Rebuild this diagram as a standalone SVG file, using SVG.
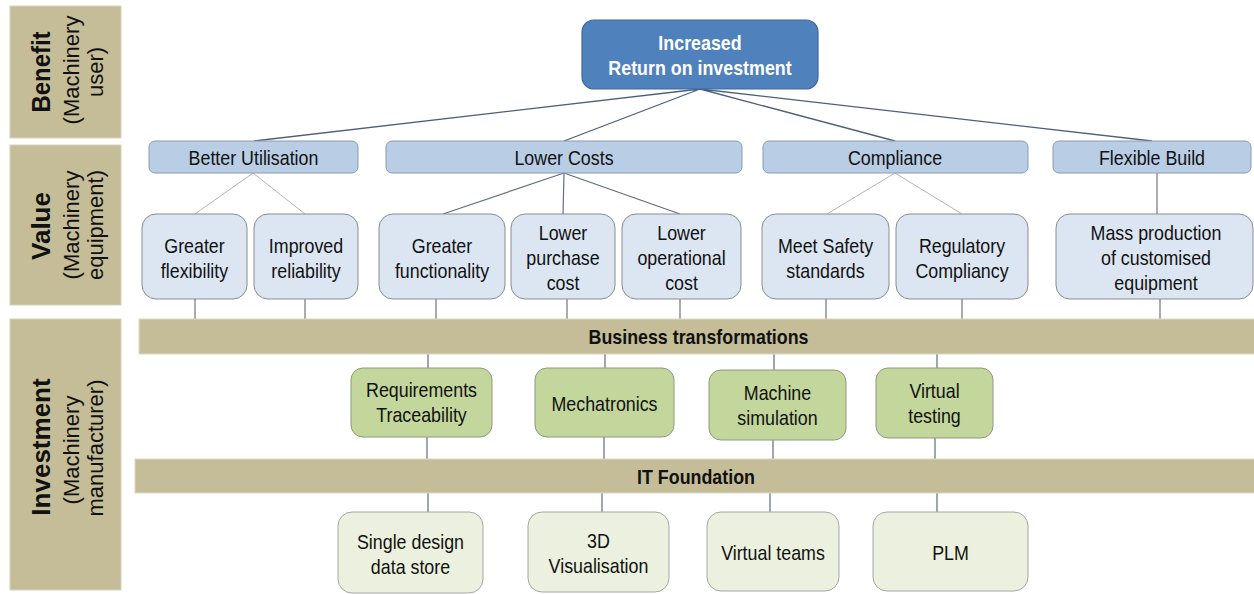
<svg xmlns="http://www.w3.org/2000/svg" width="1254" height="594" viewBox="0 0 1254 594">
  <style>
    text { font-family: "Liberation Sans", Arial, sans-serif; fill: #111; }
    .t { font-size: 21px; text-anchor: middle; }
    .tb { font-size: 21px; font-weight: bold; text-anchor: middle; }
    .top { font-size: 21px; font-weight: bold; text-anchor: middle; fill: #fff; }
    .side { font-size: 26px; font-weight: bold; text-anchor: middle; }
    .sub { font-size: 22px; text-anchor: middle; }
    .panel { fill: #c4bd97; stroke: #d8d3bd; stroke-width: 1; }
    .bar { fill: #c4bd97; stroke: #ddd8c4; stroke-width: 1; }
    .roi { fill: #4f81bd; stroke: #41689a; stroke-width: 1.2; }
    .lvl2 { fill: #b9cde5; stroke: #8a9bb2; stroke-width: 1; }
    .lvl3 { fill: #dce6f2; stroke: #8c8c8c; stroke-width: 1; }
    .bt { fill: #c3d69b; stroke: #8e9a7e; stroke-width: 1; }
    .it { fill: #ebf1de; stroke: #a6a6a6; stroke-width: 1; }
    .c-dark { stroke: #4c5f78; stroke-width: 1.3; fill: none; }
    .c-mid { stroke: #5e6e84; stroke-width: 1.2; fill: none; }
    .c-light { stroke: #b4b4b4; stroke-width: 1; fill: none; }
    .c-gray { stroke: #7a7f88; stroke-width: 1.3; fill: none; }
  </style>

  <!-- side panels -->
  <g id="panel-benefit">
    <rect class="panel" x="10" y="6" width="111" height="132"/>
    <text class="side" transform="translate(50 72) rotate(-90) scale(0.92 1)">Benefit</text>
    <text class="sub" transform="translate(79 70) rotate(-90)">(Machinery</text>
    <text class="sub" transform="translate(103 72) rotate(-90)">user)</text>
  </g>
  <g id="panel-value">
    <rect class="panel" x="10" y="145" width="111" height="160"/>
    <text class="side" transform="translate(50 226) rotate(-90)">Value</text>
    <text class="sub" transform="translate(79 225) rotate(-90)">(Machinery</text>
    <text class="sub" transform="translate(103 225) rotate(-90)">equipment)</text>
  </g>
  <g id="panel-investment">
    <rect class="panel" x="10" y="319" width="111" height="271"/>
    <text class="side" transform="translate(50 447) rotate(-90)">Investment</text>
    <text class="sub" transform="translate(79 450) rotate(-90)">(Machinery</text>
    <text class="sub" transform="translate(103 448) rotate(-90)">manufacturer)</text>
  </g>

  <!-- connectors -->
  <g id="connectors">
    <path class="c-dark" d="M700 89 L254 141 M700 89 L564 141 M700 89 L895 141 M700 89 L1152 141"/>
    <path class="c-light" d="M253 173 L195 214 M253 173 L305 214"/>
    <path class="c-mid" d="M564 173 L443 214 M564 173 L563 214 M564 173 L680 214"/>
    <path class="c-light" d="M895 173 L827 214 M895 173 L962 214"/>
    <path class="c-gray" d="M1157 173 L1157 214"/>
    <path class="c-gray" d="M195 299 V319 M305 299 V319 M436 299 V319 M567 299 V319 M680 299 V319 M826 299 V319 M962 299 V319 M1160 299 V319"/>
    <path class="c-mid" d="M428 354 V368 M605 354 V368 M774 354 V370 M937 354 V368"/>
    <path class="c-mid" d="M427 437 V459 M604 437 V459 M773 440 V459 M935 438 V459"/>
    <path class="c-mid" d="M428 493 V512 M602 493 V512 M770 493 V512 M937 493 V512"/>
  </g>

  <!-- benefit -->
  <g id="node-roi">
    <rect class="roi" x="582" y="20" width="236" height="69" rx="12"/>
    <text class="top" transform="translate(700 0) scale(0.85 1)"><tspan x="0" y="50">Increased</tspan><tspan x="0" y="75">Return on investment</tspan></text>
  </g>

  <!-- value groups -->
  <g id="node-better-utilisation">
    <rect class="lvl2" x="149" y="141" width="209" height="32" rx="6"/>
    <text class="t" transform="translate(253.5 0) scale(0.85 1)" y="165">Better Utilisation</text>
  </g>
  <g id="node-lower-costs">
    <rect class="lvl2" x="386" y="141" width="356" height="32" rx="6"/>
    <text class="t" transform="translate(564 0) scale(0.85 1)" y="165">Lower Costs</text>
  </g>
  <g id="node-compliance">
    <rect class="lvl2" x="763" y="141" width="265" height="32" rx="6"/>
    <text class="t" transform="translate(895 0) scale(0.85 1)" y="165">Compliance</text>
  </g>
  <g id="node-flexible-build">
    <rect class="lvl2" x="1053" y="141" width="198" height="32" rx="6"/>
    <text class="t" transform="translate(1152 0) scale(0.85 1)" y="165">Flexible Build</text>
  </g>

  <!-- value items -->
  <g id="node-greater-flexibility">
    <rect class="lvl3" x="142" y="214" width="105" height="85" rx="14"/>
    <text class="t" transform="translate(194.5 0) scale(0.85 1)"><tspan x="0" y="253">Greater</tspan><tspan x="0" y="278">flexibility</tspan></text>
  </g>
  <g id="node-improved-reliability">
    <rect class="lvl3" x="254" y="214" width="104" height="85" rx="14"/>
    <text class="t" transform="translate(306 0) scale(0.85 1)"><tspan x="0" y="253">Improved</tspan><tspan x="0" y="278">reliability</tspan></text>
  </g>
  <g id="node-greater-functionality">
    <rect class="lvl3" x="379" y="214" width="126" height="85" rx="14"/>
    <text class="t" transform="translate(442 0) scale(0.85 1)"><tspan x="0" y="253">Greater</tspan><tspan x="0" y="278">functionality</tspan></text>
  </g>
  <g id="node-lower-purchase-cost">
    <rect class="lvl3" x="511" y="214" width="104" height="85" rx="14"/>
    <text class="t" transform="translate(563 0) scale(0.85 1)"><tspan x="0" y="240">Lower</tspan><tspan x="0" y="265">purchase</tspan><tspan x="0" y="290">cost</tspan></text>
  </g>
  <g id="node-lower-operational-cost">
    <rect class="lvl3" x="622" y="214" width="119" height="85" rx="14"/>
    <text class="t" transform="translate(681.5 0) scale(0.85 1)"><tspan x="0" y="240">Lower</tspan><tspan x="0" y="265">operational</tspan><tspan x="0" y="290">cost</tspan></text>
  </g>
  <g id="node-meet-safety">
    <rect class="lvl3" x="762" y="214" width="127" height="85" rx="14"/>
    <text class="t" transform="translate(825.5 0) scale(0.85 1)"><tspan x="0" y="253">Meet Safety</tspan><tspan x="0" y="278">standards</tspan></text>
  </g>
  <g id="node-regulatory-compliancy">
    <rect class="lvl3" x="896" y="214" width="132" height="85" rx="14"/>
    <text class="t" transform="translate(962 0) scale(0.85 1)"><tspan x="0" y="253">Regulatory</tspan><tspan x="0" y="278">Compliancy</tspan></text>
  </g>
  <g id="node-mass-production">
    <rect class="lvl3" x="1056" y="214" width="197" height="85" rx="14"/>
    <text class="t" transform="translate(1156 0) scale(0.85 1)"><tspan x="0" y="240">Mass production</tspan><tspan x="0" y="265">of customised</tspan><tspan x="0" y="290">equipment</tspan></text>
  </g>

  <!-- business transformations -->
  <g id="bar-business-transformations">
    <rect class="bar" x="139" y="319" width="1116" height="35"/>
    <text class="tb" transform="translate(698.5 0) scale(0.85 1)" y="344">Business transformations</text>
  </g>
  <g id="node-requirements-traceability">
    <rect class="bt" x="351" y="368" width="141" height="69" rx="12"/>
    <text class="t" transform="translate(421.5 0) scale(0.85 1)"><tspan x="0" y="397">Requirements</tspan><tspan x="0" y="422">Traceability</tspan></text>
  </g>
  <g id="node-mechatronics">
    <rect class="bt" x="535" y="368" width="139" height="69" rx="12"/>
    <text class="t" transform="translate(604.5 0) scale(0.85 1)" y="411">Mechatronics</text>
  </g>
  <g id="node-machine-simulation">
    <rect class="bt" x="709" y="370" width="137" height="70" rx="12"/>
    <text class="t" transform="translate(777.5 0) scale(0.85 1)"><tspan x="0" y="400">Machine</tspan><tspan x="0" y="425">simulation</tspan></text>
  </g>
  <g id="node-virtual-testing">
    <rect class="bt" x="876" y="368" width="117" height="70" rx="12"/>
    <text class="t" transform="translate(934.5 0) scale(0.85 1)"><tspan x="0" y="398">Virtual</tspan><tspan x="0" y="423">testing</tspan></text>
  </g>

  <!-- IT foundation -->
  <g id="bar-it-foundation">
    <rect class="bar" x="135" y="459" width="1120" height="34"/>
    <text class="tb" transform="translate(696 0) scale(0.85 1)" y="484">IT Foundation</text>
  </g>
  <g id="node-single-design-data-store">
    <rect class="it" x="338" y="512" width="145" height="81" rx="14"/>
    <text class="t" transform="translate(410.5 0) scale(0.85 1)"><tspan x="0" y="549">Single design</tspan><tspan x="0" y="574">data store</tspan></text>
  </g>
  <g id="node-3d-visualisation">
    <rect class="it" x="528" y="512" width="141" height="80" rx="14"/>
    <text class="t" transform="translate(598.5 0) scale(0.85 1)"><tspan x="0" y="548">3D</tspan><tspan x="0" y="573">Visualisation</tspan></text>
  </g>
  <g id="node-virtual-teams">
    <rect class="it" x="707" y="512" width="132" height="79" rx="14"/>
    <text class="t" transform="translate(773 0) scale(0.85 1)" y="560">Virtual teams</text>
  </g>
  <g id="node-plm">
    <rect class="it" x="873" y="512" width="155" height="79" rx="14"/>
    <text class="t" transform="translate(950.5 0) scale(0.85 1)" y="560">PLM</text>
  </g>
</svg>
